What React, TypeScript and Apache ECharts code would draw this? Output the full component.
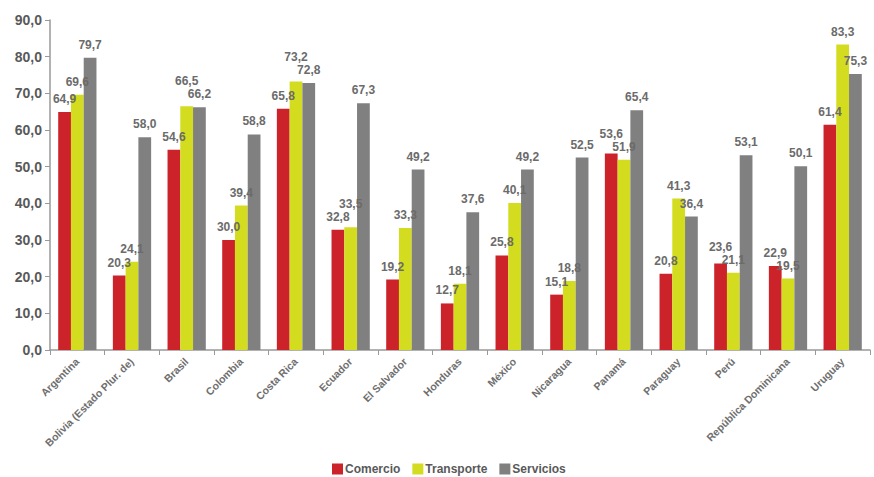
import React, { useEffect, useRef } from "react";
import * as echarts from "echarts";

const categories = ["Argentina", "Bolivia (Estado Plur. de)", "Brasil", "Colombia", "Costa Rica", "Ecuador", "El Salvador", "Honduras", "México", "Nicaragua", "Panamá", "Paraguay", "Perú", "República Dominicana", "Uruguay"];
const comercio = [64.9, 20.3, 54.6, 30.0, 65.8, 32.8, 19.2, 12.7, 25.8, 15.1, 53.6, 20.8, 23.6, 22.9, 61.4];
const transporte = [69.6, 24.1, 66.5, 39.4, 73.2, 33.5, 33.3, 18.1, 40.1, 18.8, 51.9, 41.3, 21.1, 19.5, 83.3];
const servicios = [79.7, 58.0, 66.2, 58.8, 72.8, 67.3, 49.2, 37.6, 49.2, 52.5, 65.4, 36.4, 53.1, 50.1, 75.3];

const FONT = "'Liberation Sans', Arial, sans-serif";
const fmt = (v: number) => v.toFixed(1).replace(".", ",");

const PLOT_H = 330;
const Y_MAX = 90;
const LABEL_H = 13;

// Nudge labels of neighbouring bars upward so they don't collide.
function labelShifts(all: number[][]): number[][] {
  const k = PLOT_H / Y_MAX;
  const shifts = all.map((s) => s.map(() => 0));
  for (let i = 0; i < all[0].length; i++) {
    for (const [a, b] of [[0, 1], [1, 2]]) {
      const pa = all[a][i] * k + shifts[a][i];
      const pb = all[b][i] * k + shifts[b][i];
      const d = Math.abs(pa - pb);
      if (d < LABEL_H) {
        if (pa >= pb) shifts[a][i] += LABEL_H - d;
        else shifts[b][i] += LABEL_H - d;
      }
    }
  }
  return shifts;
}

export default function App() {
  const ref = useRef<HTMLDivElement>(null);
  useEffect(() => {
    if (!ref.current) return;
    const chart = echarts.init(ref.current, null, { renderer: "svg" });
    const all = [comercio, transporte, servicios];
    const shifts = labelShifts(all);
    const mk = (name: string, idx: number, color: string) => ({
      name,
      type: "bar",
      data: all[idx].map((v, i) => ({ value: v, label: { offset: [0, -shifts[idx][i]] } })),
      barGap: "0%",
      barCategoryGap: "30%",
      itemStyle: { color },
      label: {
        show: true,
        position: "top",
        distance: 7,
        color: "#6b6b6b",
        fontFamily: FONT,
        fontWeight: "bold",
        fontSize: 12,
        formatter: (p: any) => fmt(p.value),
      },
    });
    chart.setOption({
      animation: false,
      textStyle: { fontFamily: FONT },
      grid: { left: 50, right: 4, top: 20, bottom: 127, containLabel: false },
      legend: {
        bottom: 2,
        left: 332,
        padding: 0,
        itemWidth: 11,
        itemHeight: 11,
        itemGap: 12,
        icon: "rect",
        textStyle: { fontFamily: FONT, fontWeight: "bold", fontSize: 12, color: "#595959", padding: [0, 0, 0, -3] },
        data: ["Comercio", "Transporte", "Servicios"],
      },
      xAxis: {
        type: "category",
        data: categories,
        axisLine: { lineStyle: { color: "#999999", width: 1.5 } },
        axisTick: { show: true, alignWithLabel: false, length: 5, lineStyle: { color: "#999999" } },
        axisLabel: {
          rotate: 45,
          interval: 0,
          color: "#6e6e6e",
          fontFamily: FONT,
          fontWeight: "bold",
          fontSize: 10.5,
          margin: 10,
        },
      },
      yAxis: {
        type: "value",
        min: 0,
        max: Y_MAX,
        interval: 10,
        splitLine: { show: false },
        axisLine: { show: true, lineStyle: { color: "#999999", width: 1.5 } },
        axisTick: { show: true, length: 5, lineStyle: { color: "#999999" } },
        axisLabel: {
          color: "#595959",
          fontFamily: FONT,
          fontWeight: "bold",
          fontSize: 14,
          margin: 8,
          formatter: (v: number) => fmt(v),
        },
      },
      series: [
        mk("Comercio", 0, "#cc2229"),
        mk("Transporte", 1, "#d4dc1f"),
        mk("Servicios", 2, "#808080"),
      ],
    });
    return () => chart.dispose();
  }, []);
  return <div ref={ref} style={{ width: 874, height: 477, position: "absolute", left: 0, top: 0 }} />;
}
